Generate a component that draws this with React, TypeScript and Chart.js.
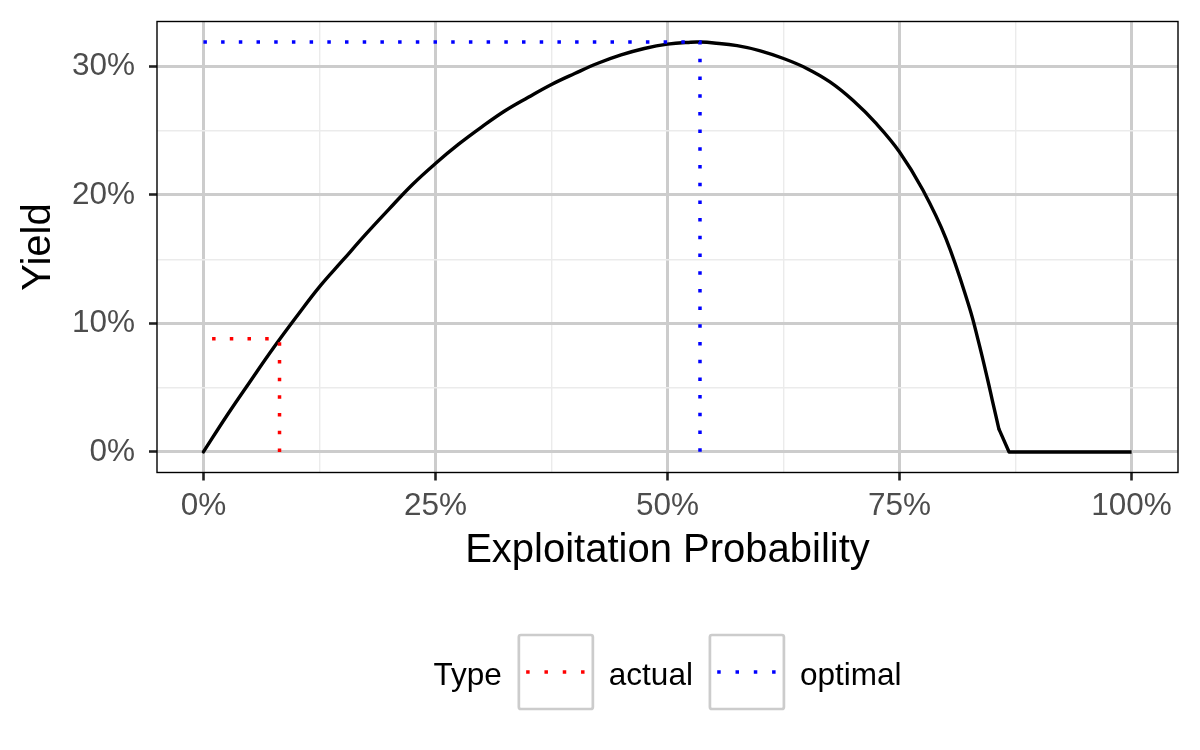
import React, { useEffect, useRef } from "react";
import { Chart, registerables } from "chart.js";

Chart.register(...registerables);

// ---- data (percent units) ----
// smooth part of the yield curve
const exploitation = [
  0, 2.5, 5, 7.5, 10, 12.5, 15, 17.5, 20, 22.5, 25, 27.5, 30, 32.5, 35, 37.5, 40,
  42.5, 45, 47.5, 50, 52.5, 53.5, 55, 57.5, 60, 62.5, 65, 67.5, 70, 72.5, 75, 77.5,
  80, 82.5, 83.5, 84.5, 85, 85.7,
];
const yieldValues = [
  0, 2.8, 5.45, 8.05, 10.5, 12.85, 14.9, 16.95, 18.9, 20.8, 22.45, 23.95, 25.3,
  26.55, 27.6, 28.6, 29.45, 30.25, 30.9, 31.4, 31.74, 31.89, 31.9, 31.83, 31.62,
  31.22, 30.62, 29.85, 28.8, 27.35, 25.55, 23.35, 20.4, 16.6, 11.3, 8.6, 5.6, 4.0,
  1.8,
];
// straight tail of the yield curve
const tailExploitation = [85.7, 86.8, 90, 95, 100];
const tailYield = [1.8, 0, 0, 0, 0];

const actualX = 8.2;
const actualY = 8.8;
const optimalX = 53.5;
const optimalY = 31.9;

const xMajorTicks = [0, 25, 50, 75, 100];
const xMinorTicks = [12.5, 37.5, 62.5, 87.5];
const yMajorTicks = [0, 10, 20, 30];
const yMinorTicks = [5, 15, 25];

const xTitle = "Exploitation Probability";
const yTitle = "Yield";
const legendTitle = "Type";
const typeLabels = ["actual", "optimal"];
const typeColors = ["#FF0000", "#0000FF"];

const FONT = "'Liberation Sans', Arial, Helvetica, sans-serif";
const DOT_DASH = [3.5, 14.2];

const panelBorderPlugin = {
  id: "panelBorder",
  afterDatasetsDraw(chart: any) {
    const { ctx, chartArea } = chart;
    ctx.save();
    ctx.strokeStyle = "#000000";
    ctx.lineWidth = 1.4;
    ctx.strokeRect(
      chartArea.left,
      chartArea.top,
      chartArea.right - chartArea.left,
      chartArea.bottom - chartArea.top
    );
    ctx.restore();
  },
};

const legendPlugin = {
  id: "ggLegend",
  afterDraw(chart: any) {
    const { ctx, chartArea } = chart;
    ctx.save();
    ctx.font = `31.5px ${FONT}`;
    const wTitle = ctx.measureText(legendTitle).width;
    const wLabels = typeLabels.map((t) => ctx.measureText(t).width);
    const box = 74;
    const gapTitle = 17;
    const gapLabel = 16;
    const gapItem = 17;
    let total = wTitle + gapTitle;
    wLabels.forEach((w, i) => {
      total += box + gapLabel + w + (i < wLabels.length - 1 ? gapItem : 0);
    });
    const cx = (chartArea.left + chartArea.right) / 2;
    let x = cx - total / 2;
    const top = 635;
    const midY = top + box / 2;
    const baseline = 685;
    ctx.fillStyle = "#000000";
    ctx.textAlign = "left";
    ctx.textBaseline = "alphabetic";
    ctx.fillText(legendTitle, x, baseline);
    x += wTitle + gapTitle;
    typeLabels.forEach((label, i) => {
      ctx.save();
      ctx.strokeStyle = "#cccccc";
      ctx.lineWidth = 2.7;
      ctx.beginPath();
      if (ctx.roundRect) ctx.roundRect(x, top, box, box, 2);
      else ctx.rect(x, top, box, box);
      ctx.stroke();
      ctx.strokeStyle = typeColors[i];
      ctx.lineWidth = 3.5;
      ctx.lineCap = "butt";
      ctx.setLineDash([3.5, 14.8]);
      ctx.beginPath();
      ctx.moveTo(x + 7.3, midY);
      ctx.lineTo(x + 67, midY);
      ctx.stroke();
      ctx.restore();
      x += box + gapLabel;
      ctx.fillStyle = "#000000";
      ctx.fillText(label, x, baseline);
      x += wLabels[i] + gapItem;
    });
    ctx.restore();
  },
};

export default function App() {
  const canvasRef = useRef<HTMLCanvasElement | null>(null);

  useEffect(() => {
    const canvas = canvasRef.current;
    if (!canvas) return;
    const curve = exploitation.map((x, i) => ({ x, y: yieldValues[i] }));
    const tail = tailExploitation.map((x, i) => ({ x, y: tailYield[i] }));
    const actualPath = [
      { x: actualX, y: 0 },
      { x: actualX, y: actualY },
      { x: 0, y: actualY },
    ];
    const optimalPath = [
      { x: 0, y: optimalY },
      { x: optimalX, y: optimalY },
      { x: optimalX, y: 0 },
    ];
    const isMajorX = (v: number) => xMajorTicks.includes(v);
    const isMajorY = (v: number) => yMajorTicks.includes(v);

    const chart = new Chart(canvas, {
      type: "line",
      data: {
        datasets: [
          {
            label: typeLabels[0],
            data: actualPath,
            borderColor: typeColors[0],
            borderWidth: 3.5,
            borderDash: DOT_DASH,
            pointRadius: 0,
            tension: 0,
            fill: false,
          },
          {
            label: typeLabels[1],
            data: optimalPath,
            borderColor: typeColors[1],
            borderWidth: 3.5,
            borderDash: DOT_DASH,
            pointRadius: 0,
            tension: 0,
            fill: false,
          },
          {
            label: "yield",
            data: curve,
            borderColor: "#000000",
            borderWidth: 3.4,
            pointRadius: 0,
            tension: 0.4,
            fill: false,
            borderJoinStyle: "round",
            borderCapStyle: "round",
          },
          {
            label: "yield tail",
            data: tail,
            borderColor: "#000000",
            borderWidth: 3.4,
            pointRadius: 0,
            tension: 0,
            fill: false,
            borderJoinStyle: "round",
            borderCapStyle: "butt",
          },
        ],
      },
      options: {
        responsive: false,
        animation: false,
        devicePixelRatio: 1,
        layout: { padding: { top: 21.5, right: 22, left: 0, bottom: 0 } },
        plugins: {
          legend: { display: false },
          tooltip: { enabled: false },
        },
        scales: {
          x: {
            type: "linear",
            min: -5,
            max: 105,
            afterFit(scale: any) {
              scale.height = 277.5;
              scale.paddingLeft = 0;
              scale.paddingRight = 0;
            },
            afterBuildTicks(scale: any) {
              scale.ticks = [...xMajorTicks, ...xMinorTicks]
                .sort((a, b) => a - b)
                .map((v) => ({ value: v }));
            },
            border: { display: false },
            grid: {
              color: (c: any) => (isMajorX(c.tick?.value) ? "#cccccc" : "#ebebeb"),
              lineWidth: (c: any) => (isMajorX(c.tick?.value) ? 3 : 1.4),
              tickColor: (c: any) =>
                isMajorX(c.tick?.value) ? "#222222" : "rgba(0,0,0,0)",
              tickWidth: 2.6,
              tickLength: 8,
              drawTicks: true,
            },
            ticks: {
              autoSkip: false,
              maxRotation: 0,
              padding: 6.6,
              color: "#4d4d4d",
              font: { family: FONT, size: 31.5 },
              callback: (v: any) => (isMajorX(Number(v)) ? `${v}%` : ""),
            },
            title: {
              display: true,
              text: xTitle,
              color: "#000000",
              font: { family: FONT, size: 40 },
              padding: { top: 0, bottom: 175 },
            },
          },
          y: {
            type: "linear",
            min: -1.6,
            max: 33.5,
            afterFit(scale: any) {
              scale.width = 157;
              scale.paddingTop = 0;
              scale.paddingBottom = 0;
            },
            afterBuildTicks(scale: any) {
              scale.ticks = [...yMajorTicks, ...yMinorTicks]
                .sort((a, b) => a - b)
                .map((v) => ({ value: v }));
            },
            border: { display: false },
            grid: {
              color: (c: any) => (isMajorY(c.tick?.value) ? "#cccccc" : "#ebebeb"),
              lineWidth: (c: any) => (isMajorY(c.tick?.value) ? 3 : 1.4),
              tickColor: (c: any) =>
                isMajorY(c.tick?.value) ? "#222222" : "rgba(0,0,0,0)",
              tickWidth: 2.6,
              tickLength: 8,
              drawTicks: true,
            },
            ticks: {
              autoSkip: false,
              padding: 14,
              color: "#4d4d4d",
              font: { family: FONT, size: 31.5 },
              callback: (v: any) => (isMajorY(Number(v)) ? `${v}%` : ""),
            },
            title: {
              display: true,
              text: yTitle,
              color: "#000000",
              font: { family: FONT, size: 40 },
              padding: { top: 15, bottom: 0 },
            },
          },
        },
      },
      plugins: [panelBorderPlugin, legendPlugin],
    } as any);

    return () => chart.destroy();
  }, []);

  return (
    <div
      style={{
        position: "fixed",
        left: 0,
        top: 0,
        width: 1200,
        height: 750,
        background: "#ffffff",
      }}
    >
      <canvas ref={canvasRef} width={1200} height={750} style={{ display: "block" }} />
    </div>
  );
}
